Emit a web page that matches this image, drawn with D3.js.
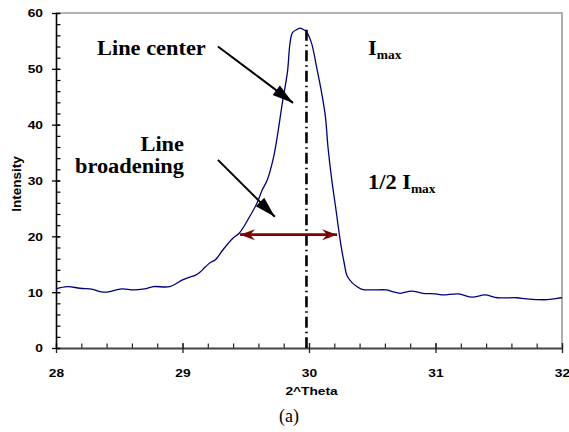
<!DOCTYPE html>
<html lang="en">
<head>
<meta charset="UTF-8">
<title>Line broadening</title>
<script src="https://d3js.org/d3.v7.min.js"></script>
<style>
  body { margin: 0; background: #fff; }
</style>
</head>
<body>
<div id="chart"></div>

<script>
    // scan data
    const theta = [28.00, 28.09, 28.19, 28.29, 28.35, 28.40, 28.52, 28.61, 28.70, 28.77,
                   28.90, 29.00, 29.06, 29.10, 29.14, 29.18, 29.22, 29.26, 29.32, 29.40,
                   29.45, 29.53, 29.59, 29.63, 29.67, 29.72, 29.75, 29.79, 29.83, 29.85,
                   29.87, 29.91, 29.93, 29.96, 29.98, 30.02, 30.06, 30.10, 30.13, 30.15,
                   30.18, 30.21, 30.25, 30.28, 30.30, 30.34, 30.38, 30.42, 30.50, 30.61,
                   30.66, 30.72, 30.81, 30.90, 31.00, 31.06, 31.18, 31.29, 31.39, 31.49,
                   31.64, 31.72, 31.88, 31.96, 32.00];
    const intensity = [10.6, 11.0, 10.7, 10.5, 10.1, 10.0, 10.6, 10.4, 10.6, 11.0,
                       11.0, 12.2, 12.7, 13.0, 13.6, 14.5, 15.3, 15.8, 17.6, 19.7,
                       20.6, 23.5, 26.0, 28.3, 30.1, 34.2, 38.0, 44.0, 49.5, 54.6,
                       56.5, 57.1, 57.3, 57.0, 56.6, 54.6, 50.3, 45.7, 41.4, 36.0,
                       30.1, 25.3, 18.8, 15.0, 13.0, 11.7, 11.0, 10.5, 10.4, 10.4,
                       10.1, 9.8, 10.2, 9.8, 9.7, 9.5, 9.7, 9.1, 9.5, 9.0,
                       9.0, 8.8, 8.65, 8.9, 9.0];

    const xTicks = [28, 29, 30, 31, 32];
    const yTicks = [0, 10, 20, 30, 40, 50, 60];

    // annotations (data coordinates)
    const centerTheta = 29.98;
    const centerTop = 57;
    const fwhm = {from: 29.455, to: 30.222, level: 20.3};
    const arrowCenter = {x1: 29.28, y1: 54.0, x2: 29.874, y2: 43.9};
    const arrowBroad = {x1: 29.28, y1: 33.7, x2: 29.73, y2: 23.5};

    const margins = {top: 13, right: 7, bottom: 84, left: 56};
    const W = 569, H = 432;
    const width = W - margins.left - margins.right,
          height = H - margins.top - margins.bottom;

    const root = d3.select("#chart").append("svg")
        .attr("width", W)
        .attr("height", H)
        .style("display", "block");

    const defs = root.append("defs");
    defs.append("marker")
        .attr("id", "headBlack")
        .attr("markerUnits", "userSpaceOnUse")
        .attr("viewBox", "-1 -8 24 16")
        .attr("markerWidth", 24).attr("markerHeight", 16)
        .attr("refX", 21).attr("refY", 0)
        .attr("orient", "auto")
        .append("path").attr("d", "M0,-6 L21,0 L0,6 Z").attr("fill", "#000");
    defs.append("marker")
        .attr("id", "headRed")
        .attr("markerUnits", "userSpaceOnUse")
        .attr("viewBox", "-1 -7 18 14")
        .attr("markerWidth", 18).attr("markerHeight", 14)
        .attr("refX", 15).attr("refY", 0)
        .attr("orient", "auto-start-reverse")
        .append("path").attr("d", "M0,-5.5 L15,0 L0,5.5 L5,0 Z").attr("fill", "#800000");

    const svg = root.append("g")
        .attr("transform", `translate(${margins.left},${margins.top})`);

    const x = d3.scaleLinear().domain([28, 32]).range([0, width]);
    const y = d3.scaleLinear().domain([0, 60]).range([height, 0]);

    // plot frame (top and right in grey)
    svg.append("path")
        .attr("d", `M0,0 H${width} V${height}`)
        .attr("fill", "none")
        .attr("stroke", "#9a9a9a")
        .attr("stroke-width", 1.6);

    // minor ticks
    svg.append("g")
        .attr("transform", `translate(0,${height})`)
        .call(d3.axisBottom(x).tickValues(d3.range(28, 32.01, 0.2)).tickSize(-4.5).tickFormat(""))
        .call(g => g.select(".domain").remove())
        .call(g => g.selectAll("line").attr("stroke", "#222").attr("stroke-width", 1.2));
    svg.append("g")
        .call(d3.axisLeft(y).tickValues(d3.range(0, 60.01, 2)).tickSize(-4.5).tickFormat(""))
        .call(g => g.select(".domain").remove())
        .call(g => g.selectAll("line").attr("stroke", "#000").attr("stroke-width", 1.2));

    const stretch = 1.25;

    // X axis
    const xAxis = svg.append("g")
        .attr("transform", `translate(0,${height})`)
        .call(d3.axisBottom(x).tickValues(xTicks).tickSize(5).tickSizeOuter(0).tickFormat(d3.format("d")));
    xAxis.select(".domain").attr("stroke", "#444").attr("stroke-width", 2);
    xAxis.selectAll(".tick line").attr("y1", -5).attr("y2", 5).attr("stroke", "#222").attr("stroke-width", 1.3);
    xAxis.selectAll(".tick text")
        .attr("y", 29).attr("dy", 0)
        .attr("transform", `scale(${stretch},1)`)
        .style("font-family", "'Liberation Sans', Arial, sans-serif")
        .style("font-weight", "bold")
        .style("font-size", "11px")
        .attr("fill", "#000");

    // Y axis
    const yAxis = svg.append("g")
        .call(d3.axisLeft(y).tickValues(yTicks).tickSize(4).tickSizeOuter(0).tickFormat(d3.format("d")));
    yAxis.select(".domain").attr("stroke", "#000").attr("stroke-width", 1.6);
    yAxis.selectAll(".tick line").attr("x1", 4).attr("x2", -4).attr("stroke", "#000").attr("stroke-width", 1.3);
    yAxis.selectAll(".tick text")
        .attr("x", -13 / stretch).attr("dy", "0.36em")
        .attr("transform", `scale(${stretch},1)`)
        .style("font-family", "'Liberation Sans', Arial, sans-serif")
        .style("font-weight", "bold")
        .style("font-size", "11px")
        .attr("fill", "#000");

    // axis titles
    root.append("g")
        .attr("transform", `translate(${margins.left + x(30.02)},395)`)
        .append("text")
        .attr("transform", `scale(${stretch},1)`)
        .attr("text-anchor", "middle")
        .style("font-family", "'Liberation Sans', Arial, sans-serif")
        .style("font-weight", "bold")
        .style("font-size", "11px")
        .text("2^Theta");

    root.append("text")
        .attr("transform", "translate(21,184) rotate(-90)")
        .attr("text-anchor", "middle")
        .style("font-family", "'Liberation Sans', Arial, sans-serif")
        .style("font-weight", "bold")
        .style("font-size", "13.5px")
        .text("Intensity");

    root.append("text")
        .attr("x", 289).attr("y", 422)
        .attr("text-anchor", "middle")
        .style("font-family", "'Liberation Serif', 'Times New Roman', serif")
        .style("font-size", "18px")
        .text("(a)");

    // the scan
    const line = d3.line()
        .x(d => x(d[0]))
        .y(d => y(d[1]))
        .curve(d3.curveCatmullRom.alpha(0.5));

    svg.append("path")
        .datum(d3.zip(theta, intensity))
        .attr("d", line)
        .attr("fill", "none")
        .attr("stroke", "#000080")
        .attr("stroke-width", 1.3);

    // line center marker
    svg.append("line")
        .attr("x1", x(centerTheta)).attr("x2", x(centerTheta))
        .attr("y1", y(centerTop)).attr("y2", y(0))
        .attr("stroke", "#000")
        .attr("stroke-width", 2.6)
        .attr("stroke-dasharray", "11,4,1.5,4");

    // FWHM double arrow
    svg.append("line")
        .attr("x1", x(fwhm.from)).attr("x2", x(fwhm.to))
        .attr("y1", y(fwhm.level)).attr("y2", y(fwhm.level))
        .attr("stroke", "#800000")
        .attr("stroke-width", 2.6)
        .attr("marker-start", "url(#headRed)")
        .attr("marker-end", "url(#headRed)");

    // pointer arrows
    [arrowCenter, arrowBroad].forEach(a => {
        svg.append("line")
            .attr("x1", x(a.x1)).attr("y1", y(a.y1))
            .attr("x2", x(a.x2)).attr("y2", y(a.y2))
            .attr("stroke", "#000")
            .attr("stroke-width", 2)
            .attr("marker-end", "url(#headBlack)");
    });

    // labels
    const serifStretch = 1.12;
    function label(px, py, anchor, parts) {
        const t = root.append("g")
            .attr("transform", `translate(${px},${py})`)
            .append("text")
            .attr("transform", `scale(${serifStretch},1)`)
            .attr("text-anchor", anchor)
            .style("font-family", "'Liberation Serif', 'Times New Roman', serif")
            .style("font-weight", "bold")
            .style("font-size", "20px");
        parts.forEach(p => {
            t.append("tspan")
                .attr("dy", p.dy || 0)
                .style("font-size", p.size || null)
                .text(p.text);
        });
    }
    label(97, 54.5, "start", [{text: "Line center"}]);
    label(184, 151, "end", [{text: "Line"}]);
    label(184, 173, "end", [{text: "broadening"}]);
    label(368, 55, "start", [{text: "I"}, {text: "max", size: "12px", dy: 3.5}]);
    label(368, 189, "start", [{text: "1/2 I"}, {text: "max", size: "12px", dy: 3.5}]);
</script>
</body>
</html>
